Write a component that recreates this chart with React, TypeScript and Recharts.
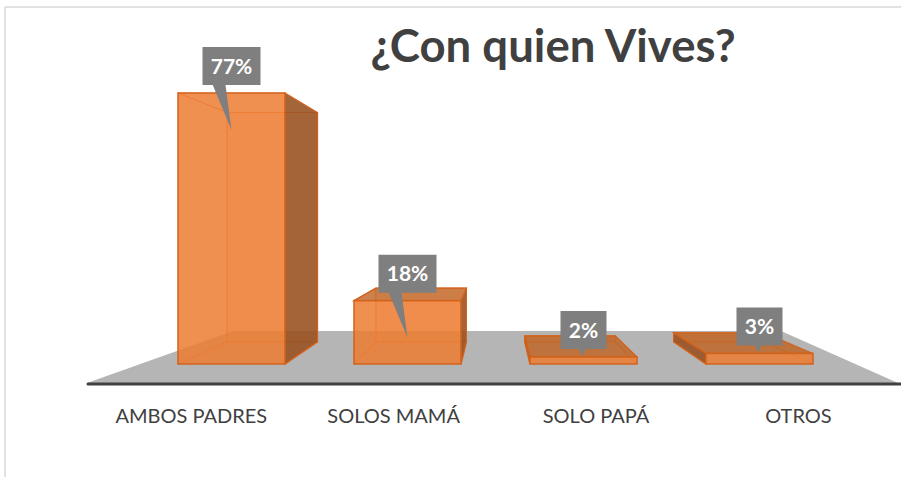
import React from "react";
import { BarChart, Bar, XAxis, YAxis, ReferenceArea, LabelList } from "recharts";

const categories = ["AMBOS PADRES", "SOLOS MAMÁ", "SOLO PAPÁ", "OTROS"];
const percentages = [77, 18, 2, 3];
const title = "¿Con quien Vives?";

const data = categories.map((name, i) => ({ name, value: percentages[i] }));

const FONT = "Lato, 'Open Sans', sans-serif";
// fake perspective: everything recedes towards this point
const VX = 496;
const VY = 220;
const DEPTH = 0.154;
const EDGE = "#D2621C";

const toBack = (px: number, py: number) => [px + DEPTH * (VX - px), py + DEPTH * (VY - py)];
const pts = (arr: number[][]) => arr.map((p) => p.join(",")).join(" ");

function Box3D(props: any) {
  const { x, y, width, height } = props;
  if (width == null || height == null) return null;
  const x0 = x;
  const x1 = x + width;
  const y0 = y;
  const y1 = y + height;
  const [bx0, by0] = toBack(x0, y0);
  const [bx1, by1] = toBack(x1, y1);
  const inner = { stroke: "#E2702A", strokeWidth: 1.2, strokeOpacity: 0.8 };

  return (
    <g>
      {/* back face and hidden edges, seen through the glass */}
      <polygon
        points={pts([[bx0, by0], [bx1, by0], [bx1, by1], [bx0, by1]])}
        fill="#ED7D31"
        fillOpacity={0.15}
        {...inner}
      />
      <line x1={x0} y1={y0} x2={bx0} y2={by0} {...inner} />
      <line x1={x0} y1={y1} x2={bx0} y2={by1} {...inner} />
      <line x1={x1} y1={y1} x2={bx1} y2={by1} {...inner} />
      {bx1 > x1 && (
        <polygon
          points={pts([[x1, y0], [bx1, by0], [bx1, by1], [x1, y1]])}
          fill="#985020"
          fillOpacity={0.88}
          stroke={EDGE}
          strokeWidth={1.2}
        />
      )}
      {bx0 < x0 && (
        <polygon
          points={pts([[x0, y0], [bx0, by0], [bx0, by1], [x0, y1]])}
          fill="#985020"
          fillOpacity={0.88}
          stroke={EDGE}
          strokeWidth={1.2}
        />
      )}
      {by0 < y0 && (
        <polygon
          points={pts([[x0, y0], [x1, y0], [bx1, by0], [bx0, by0]])}
          fill="#C0621F"
          fillOpacity={0.8}
          stroke={EDGE}
          strokeWidth={1.2}
        />
      )}
      <rect x={x0} y={y0} width={width} height={height} fill="#ED7D31" fillOpacity={0.85} stroke={EDGE} strokeWidth={1.5} />
    </g>
  );
}

function Floor(props: any) {
  const { x, y, width, height } = props;
  const front = y + height;
  const backY = y - 33;
  return (
    <g>
      <polygon
        points={pts([[x - 56, front], [x + 90, backY], [x + width - 66, backY], [x + width + 51, front]])}
        fill="#B5B5B5"
      />
      <line x1={x - 55} y1={front + 1} x2={x + width + 60} y2={front + 1} stroke="#404040" strokeWidth={3} strokeLinecap="round" />
    </g>
  );
}

function Callout(props: any) {
  const vb = props.viewBox ?? props;
  const { x, y, width, height } = vb;
  const value = props.value;
  const cx = x + width / 2;
  const digits = String(value).length;
  const w = 34 + 12 * digits;
  const h = 38;
  const bottom = y - 8;
  const len = Math.max(7, Math.min(45, height - 10));
  const tipY = bottom + len;
  const bl = cx - 3 - 0.35 * len;
  const br = cx + 3 - 0.2 * len;
  return (
    <g>
      <path
        d={`M${cx - w / 2},${bottom - h} H${cx + w / 2} V${bottom} H${br} L${cx},${tipY} L${bl},${bottom} H${cx - w / 2} Z`}
        fill="#7F7F7F"
      />
      <text
        x={cx}
        y={bottom - h / 2}
        dy="0.36em"
        textAnchor="middle"
        fill="#FFFFFF"
        fontFamily={FONT}
        fontWeight={700}
        fontSize={21}
      >
        {`${value}%`}
      </text>
    </g>
  );
}

function Tick(props: any) {
  const { x, y, payload } = props;
  // labels sit on the front edge of the floor, spread out by perspective
  const tx = VX + (x - VX) * 1.15;
  return (
    <text x={tx} y={y + 40} textAnchor="middle" fill="#404040" fontFamily={FONT} fontSize={20}>
      {payload.value}
    </text>
  );
}

export default function App() {
  return (
    <div style={{ position: "absolute", left: 0, top: 0, width: 901, height: 477, background: "#FFFFFF", overflow: "hidden" }}>
      <BarChart
        width={901}
        height={477}
        data={data}
        margin={{ top: 12, right: 54, bottom: 54, left: 143 }}
        barSize={107}
      >
        <XAxis
          dataKey="name"
          axisLine={false}
          tickLine={false}
          tickSize={0}
          tickMargin={0}
          height={40}
          tick={<Tick />}
          interval={0}
        />
        <YAxis hide domain={[-5.4, 100]} allowDataOverflow />
        <ReferenceArea y1={-5.4} y2={0} shape={<Floor />} ifOverflow="visible" zIndex={-50} />
        <Bar dataKey="value" shape={<Box3D />} isAnimationActive={false}>
          <LabelList dataKey="value" content={<Callout />} />
        </Bar>
      </BarChart>
      <svg width={901} height={477} style={{ position: "absolute", left: 0, top: 0, pointerEvents: "none" }}>
        <line x1={5} y1={7} x2={901} y2={7} stroke="#D9D9D9" strokeWidth={1.5} />
        <line x1={5} y1={7} x2={5} y2={477} stroke="#D9D9D9" strokeWidth={1.5} />
        <text x={553} y={62} textAnchor="middle" fill="#404040" fontFamily={FONT} fontWeight={700} fontSize={45.5}>
          {title}
        </text>
      </svg>
    </div>
  );
}
